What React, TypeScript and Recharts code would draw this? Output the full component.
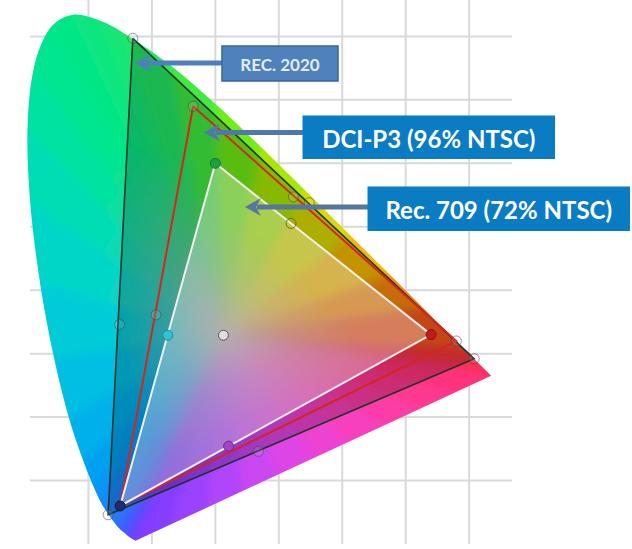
import React from 'react'
import { ScatterChart, Scatter, XAxis, YAxis, CartesianGrid, Cell } from 'recharts'

// CIE 1931 spectral locus (wavelength nm, x, y)
const locusNm = [380, 440, 450, 460, 470, 475, 480, 485, 490, 495, 500, 505, 510, 515, 520, 525, 530, 540, 550, 560, 570, 580, 590, 600, 620, 640, 700]
const locusX = [0.1741, 0.1644, 0.1566, 0.144, 0.1241, 0.1096, 0.0913, 0.0687, 0.0454, 0.0235, 0.0082, 0.0039, 0.0139, 0.0389, 0.0743, 0.1142, 0.1547, 0.2296, 0.3016, 0.3731, 0.4441, 0.5125, 0.5752, 0.627, 0.6915, 0.719, 0.7347]
const locusY = [0.005, 0.0109, 0.0177, 0.0297, 0.0578, 0.0868, 0.1327, 0.2007, 0.295, 0.4127, 0.5384, 0.6548, 0.7502, 0.812, 0.8338, 0.8262, 0.8059, 0.7543, 0.6923, 0.6245, 0.5547, 0.4866, 0.4242, 0.3725, 0.3083, 0.2809, 0.2653]

const whitePoint = { x: 0.3127, y: 0.329 }

// primaries G, R, B
const rec2020 = [{ x: 0.17, y: 0.797 }, { x: 0.708, y: 0.292 }, { x: 0.131, y: 0.046 }]
const dciP3 = [{ x: 0.265, y: 0.69 }, { x: 0.68, y: 0.32 }, { x: 0.15, y: 0.06 }]
const rec709 = [{ x: 0.3, y: 0.6 }, { x: 0.64, y: 0.33 }, { x: 0.15, y: 0.06 }]

// secondaries cyan, yellow (, magenta)
const rec2020Secondary = [{ x: 0.149, y: 0.346 }, { x: 0.448, y: 0.538 }]
const dciP3Secondary = [{ x: 0.2065, y: 0.361 }, { x: 0.423, y: 0.547 }, { x: 0.368, y: 0.146 }]
const rec709Secondary = [{ x: 0.225, y: 0.329 }, { x: 0.4193, y: 0.5053 }, { x: 0.3209, y: 0.1542 }]

const gridX = [0.1, 0.2, 0.3, 0.4, 0.5, 0.6, 0.7]
const gridY = [0.1, 0.2, 0.3, 0.4, 0.5, 0.6, 0.7, 0.8]

const calloutLabels = ['REC. 2020', 'DCI-P3 (96% NTSC)', 'Rec. 709 (72% NTSC)']
const calloutBox = [{ x: 0.4019, y: 0.7573 }, { x: 0.6364, y: 0.6411 }, { x: 0.7467, y: 0.5284 }]
const calloutFrom = [{ x: 0.3105, y: 0.7581 }, { x: 0.4381, y: 0.6485 }, { x: 0.5406, y: 0.5311 }]
const calloutTip = [{ x: 0.1734, y: 0.7581 }, { x: 0.2821, y: 0.6485 }, { x: 0.3467, y: 0.5311 }]

const X_DOMAIN = [-0.0394, 0.9567]
const Y_DOMAIN = [0, 0.8574]

const locusData = [whitePoint, ...locusX.map((x, i) => ({ x, y: locusY[i], nm: locusNm[i] }))]
const close = (pts: { x: number; y: number }[]) => [...pts, pts[0]]

// colours along the locus
const locusColors = ['#7a3cff', '#5a46ff', '#4656ff', '#2f6eff', '#1488fa', '#0898f4', '#00a8ee', '#00b8e6', '#00c6de', '#00d2d0', '#00dac0', '#00e0aa', '#00e496', '#00e68a', '#06e684', '#0ee67c', '#16e672', '#2ce85a', '#52ec28', '#8cec00', '#c4e400', '#f0d000', '#f8a000', '#f87010', '#f24028', '#f42c48', '#ff3070']
const purpleColors = ['#ff3070', '#ff3a9c', '#f442c8', '#d646ee', '#a444ff', '#7a3cff']
const CENTER = '#b8aeb0'

type RGB = number[]
type Pt = { x: number; y: number }
const rgb = (h: string): RGB => [1, 3, 5].map((i) => parseInt(h.slice(i, i + 2), 16))
const lerp = (a: RGB, b: RGB, t: number): RGB => a.map((v, i) => v + (b[i] - v) * t)
const css = (c: RGB) => `rgb(${c.map((v) => Math.round(v)).join(',')})`

function purpleAt(t: number): RGB {
  const s = t * (purpleColors.length - 1)
  const i = Math.min(Math.floor(s), purpleColors.length - 2)
  return lerp(rgb(purpleColors[i]), rgb(purpleColors[i + 1]), s - i)
}

// smooth outline through the spectral points, straight purple line back
function smoothOutline(p: Pt[]) {
  let d = `M${p[0].x},${p[0].y}`
  for (let i = 0; i < p.length - 1; i++) {
    const p0 = p[Math.max(i - 1, 0)]
    const p1 = p[i]
    const p2 = p[i + 1]
    const p3 = p[Math.min(i + 2, p.length - 1)]
    const c1 = { x: p1.x + (p2.x - p0.x) / 6, y: p1.y + (p2.y - p0.y) / 6 }
    const c2 = { x: p2.x - (p3.x - p1.x) / 6, y: p2.y - (p3.y - p1.y) / 6 }
    d += `C${c1.x},${c1.y} ${c2.x},${c2.y} ${p2.x},${p2.y}`
  }
  return d + 'Z'
}

function renderLocus(props: any) {
  const pts = props.points as Pt[]
  const c = pts[0]
  const spectral = pts.slice(1)
  const rim: { x: number; y: number; col: RGB }[] = spectral.map((p, i) => ({ x: p.x, y: p.y, col: rgb(locusColors[i]) }))
  const last = rim[rim.length - 1]
  const first = rim[0]
  const steps = 10
  for (let k = 1; k < steps; k++) {
    const t = k / steps
    rim.push({ x: last.x + (first.x - last.x) * t, y: last.y + (first.y - last.y) * t, col: purpleAt(t) })
  }
  const ext = (p: Pt) => ({ x: c.x + (p.x - c.x) * 1.2, y: c.y + (p.y - c.y) * 1.2 })
  const center = rgb(CENTER)
  return (
    <g>
      <defs>
        <clipPath id="locus-clip">
          <path d={smoothOutline(spectral)} />
        </clipPath>
        <filter id="locus-blur" x="-20%" y="-20%" width="140%" height="140%">
          <feGaussianBlur stdDeviation="5" />
        </filter>
        {rim.map((a, i) => {
          const b = rim[(i + 1) % rim.length]
          const edge = lerp(a.col, b.col, 0.5)
          return (
            <linearGradient key={i} id={`fan-${i}`} gradientUnits="userSpaceOnUse" x1={c.x} y1={c.y} x2={(a.x + b.x) / 2} y2={(a.y + b.y) / 2}>
              <stop offset="0" stopColor={css(center)} />
              <stop offset="0.28" stopColor={css(lerp(center, edge, 0.62))} />
              <stop offset="0.6" stopColor={css(edge)} />
              <stop offset="1" stopColor={css(edge)} />
            </linearGradient>
          )
        })}
      </defs>
      <g clipPath="url(#locus-clip)">
        <g filter="url(#locus-blur)">
          {rim.map((a, i) => {
            const b = rim[(i + 1) % rim.length]
            const ea = ext(a)
            const eb = ext(b)
            return (
              <polygon key={i} points={`${c.x},${c.y} ${ea.x},${ea.y} ${eb.x},${eb.y}`} fill={`url(#fan-${i})`} stroke={`url(#fan-${i})`} strokeWidth={1} />
            )
          })}
        </g>
      </g>
    </g>
  )
}

const noDot = () => <g />

const hollowDot = (p: any) => (
  <circle cx={p.cx} cy={p.cy} r={5} fill="rgba(255,255,255,0.1)" stroke="rgba(70,70,70,0.55)" strokeWidth={1} />
)
const filledDot = (p: any) => <circle cx={p.cx} cy={p.cy} r={5} fill={p.fill} stroke={p.stroke} strokeWidth={1} />

const rec709DotFill = ['#1ea040', '#c41a1a', '#262a6a', '#34c2d2', 'none', '#a444c4']
const rec709DotStroke = ['#0f7a2c', '#8e1010', '#141640', '#1a8a98', '#6a6a22', '#6e2c8c']

const arrowColors = ['#4f7fbd', '#4f79ae', '#55779f']
const boxStyles = [
  { w: 116, h: 35, fill: '#4f81bd', stroke: '#3a6598', text: '#e4ebf4', size: 17 },
  { w: 251, h: 42, fill: '#0a7cc4', stroke: '#0a7cc4', text: '#ffffff', size: 24 },
  { w: 261, h: 43, fill: '#0a7cc4', stroke: '#0a7cc4', text: '#ffffff', size: 24 },
]

const arrowLine = (color: string) => (props: any) => {
  const [a, b] = props.points as Pt[]
  const dir = Math.sign(b.x - a.x) || -1
  const head = 16
  return (
    <g>
      <line x1={a.x} y1={a.y} x2={b.x - dir * (head - 4)} y2={b.y} stroke={color} strokeWidth={5} />
      <polygon
        points={`${b.x},${b.y} ${b.x - dir * head},${b.y - 9} ${b.x - dir * (head - 5)},${b.y} ${b.x - dir * head},${b.y + 9}`}
        fill={color}
      />
    </g>
  )
}

const calloutBoxShape = (i: number) => (p: any) => {
  const s = boxStyles[i]
  return (
    <g>
      <rect x={p.cx - s.w / 2} y={p.cy - s.h / 2} width={s.w} height={s.h} fill={s.fill} stroke={s.stroke} strokeWidth={1.5} />
      <text
        x={p.cx}
        y={p.cy + 1}
        textAnchor="middle"
        dominantBaseline="central"
        fill={s.text}
        fontFamily="Lato, 'Open Sans', sans-serif"
        fontWeight={700}
        fontSize={s.size}
      >
        {p.payload.label}
      </text>
    </g>
  )
}

export default function App() {
  return (
    <div style={{ position: 'absolute', left: 0, top: 0, width: 632, height: 549, background: '#ffffff' }}>
      <ScatterChart width={632} height={549} margin={{ top: 0, right: 0, bottom: 5, left: 0 }}>
        <XAxis type="number" dataKey="x" domain={X_DOMAIN} allowDataOverflow hide />
        <YAxis type="number" dataKey="y" domain={Y_DOMAIN} allowDataOverflow hide width={0} />
        <CartesianGrid
          x={30}
          y={0}
          width={482}
          height={544}
          horizontalValues={gridY}
          verticalValues={gridX}
          stroke="#d9d9d9"
          strokeWidth={2}
        />
        <Scatter data={locusData} line={renderLocus} shape={noDot} isAnimationActive={false} />
        <Scatter
          data={close(rec2020)}
          line={{ stroke: '#1e3427', strokeWidth: 1.6, fill: 'rgba(0,0,0,0.2)' }}
          shape={noDot}
          isAnimationActive={false}
        />
        <Scatter data={close(dciP3)} line={{ stroke: '#d4261c', strokeWidth: 2, fill: 'none' }} shape={noDot} isAnimationActive={false} />
        <Scatter
          data={close(rec709)}
          line={{ stroke: '#f2eeee', strokeWidth: 2, fill: 'rgba(255,255,255,0.3)' }}
          shape={noDot}
          isAnimationActive={false}
        />
        <Scatter data={[...rec2020, ...rec2020Secondary]} shape={hollowDot} isAnimationActive={false} />
        <Scatter data={[dciP3[0], dciP3[1], ...dciP3Secondary]} shape={hollowDot} isAnimationActive={false} />
        <Scatter data={[...rec709, ...rec709Secondary]} shape={filledDot} isAnimationActive={false}>
          {rec709DotFill.map((f, i) => (
            <Cell key={i} fill={f} stroke={rec709DotStroke[i]} />
          ))}
        </Scatter>
        <Scatter data={[whitePoint]} shape={filledDot} fill="#dedede" stroke="#555555" isAnimationActive={false} />
        {calloutLabels.map((label, i) => (
          <Scatter
            key={`arrow-${i}`}
            data={[calloutFrom[i], calloutTip[i]]}
            line={arrowLine(arrowColors[i])}
            shape={noDot}
            isAnimationActive={false}
          />
        ))}
        {calloutLabels.map((label, i) => (
          <Scatter
            key={`box-${i}`}
            data={[{ ...calloutBox[i], label }]}
            shape={calloutBoxShape(i)}
            isAnimationActive={false}
          />
        ))}
      </ScatterChart>
    </div>
  )
}
